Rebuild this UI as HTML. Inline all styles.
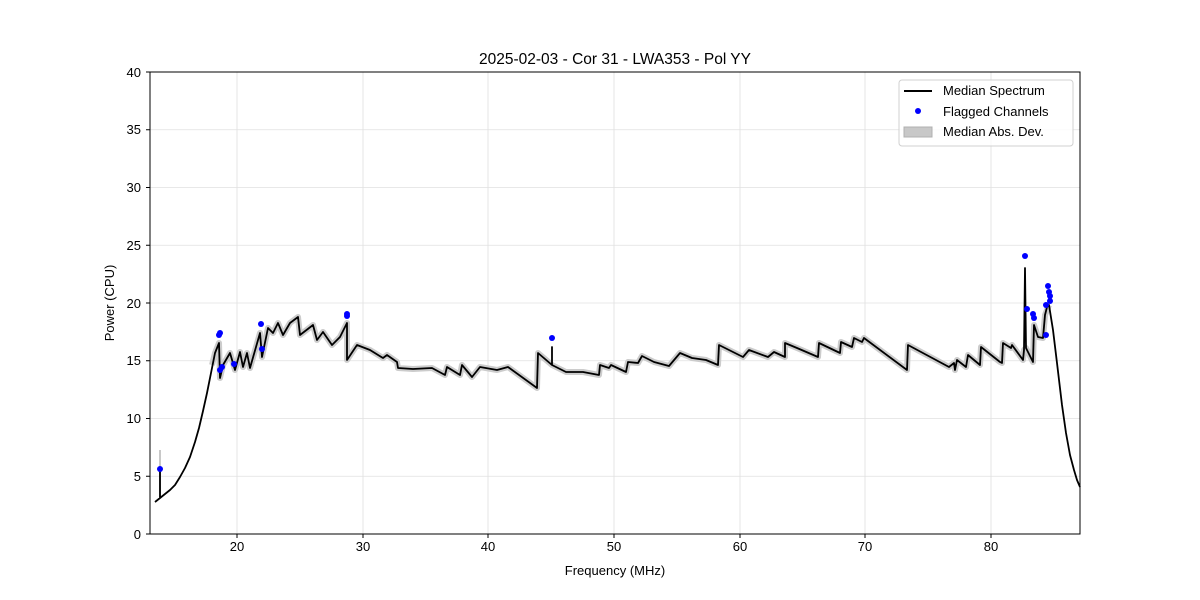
<!DOCTYPE html>
<html><head><meta charset="utf-8"><style>body{margin:0;background:#fff}svg{display:block;font-family:"Liberation Sans","DejaVu Sans",sans-serif}</style></head>
<body>
<svg width="1200" height="600" viewBox="0 0 1200 600" xmlns="http://www.w3.org/2000/svg">
<rect width="1200" height="600" fill="#fff"/>
<g stroke="#e0e0e0" stroke-width="0.8">
<line x1="237" y1="72" x2="237" y2="534"/><line x1="363" y1="72" x2="363" y2="534"/><line x1="488" y1="72" x2="488" y2="534"/><line x1="614" y1="72" x2="614" y2="534"/><line x1="740" y1="72" x2="740" y2="534"/><line x1="865" y1="72" x2="865" y2="534"/><line x1="991" y1="72" x2="991" y2="534"/>
<line x1="150" y1="476.25" x2="1080" y2="476.25"/><line x1="150" y1="418.5" x2="1080" y2="418.5"/><line x1="150" y1="360.75" x2="1080" y2="360.75"/><line x1="150" y1="303" x2="1080" y2="303"/><line x1="150" y1="245.25" x2="1080" y2="245.25"/><line x1="150" y1="187.5" x2="1080" y2="187.5"/><line x1="150" y1="129.75" x2="1080" y2="129.75"/>
</g>
<g fill="none" stroke-linejoin="round">
<path stroke="#cccccc" stroke-width="6" d="M212,365 L215,353 L219,343 L220,378 L223,365 L230,353 L235,370 L240,352 L243,367 L247,353 L250,368 L260,333 L262,357 L268,328 L273,333 L278,323 L283,335 L290,323 L298,317 L300,335 L313,325 L317,340 L323,332 L332,345 L340,337 L347,323 L347,360 L357,345 L370,350 L383,358 L387,355 L397,362 L398,368 L413,369 L432,368 L445,375 L447,367 L460,375 L462,365 L472,377 L480,367 L497,370 L508,367 L537,388 L538,353 L552,365 L566,372 L583,372 L599,375 L600,365 L609,368 L611,365 L626,372 L628,362 L638,363 L642,356 L654,362 L669,366 L680,353 L692,358 L706,360 L718,365 L719,345 L743,357 L749,350 L768,357 L774,352 L785,357 L785,343 L797,348 L818,357 L819,343 L840,353 L841,342 L852,347 L854,338 L862,342 L864,338 L907,370 L908,345 L949,367 L954,363 L955,370 L957,360 L966,367 L968,355 L980,365 L981,347 L1000,362 L1002,363 L1003,343 L1011,348 L1012,345 L1023,360 L1024,350 L1026,348 L1033,362 L1034,325 L1038,337 L1043,338 L1045,315 L1049,305"/>
<line x1="160" y1="450" x2="160" y2="498" stroke="#c8c8c8" stroke-width="2"/>
<path stroke="#000" stroke-width="1.8" d="M155,502 L160,498 L160,470 L160,498 L165,494 L170,490 L175,485 L180,477 L185,468 L190,457 L195,442 L199,428 L203,411 L207,393 L211,373 L215,353 L219,343 L220,378 L223,365 L230,353 L235,370 L240,352 L243,367 L247,353 L250,368 L260,333 L262,357 L268,328 L273,333 L278,323 L283,335 L290,323 L298,317 L300,335 L313,325 L317,340 L323,332 L332,345 L340,337 L347,323 L347,360 L357,345 L370,350 L383,358 L387,355 L397,362 L398,368 L413,369 L432,368 L445,375 L447,367 L460,375 L462,365 L472,377 L480,367 L497,370 L508,367 L537,388 L538,353 L552,365 L552,347 L552,365 L566,372 L583,372 L599,375 L600,365 L609,368 L611,365 L626,372 L628,362 L638,363 L642,356 L654,362 L669,366 L680,353 L692,358 L706,360 L718,365 L719,345 L743,357 L749,350 L768,357 L774,352 L785,357 L785,343 L797,348 L818,357 L819,343 L840,353 L841,342 L852,347 L854,338 L862,342 L864,338 L907,370 L908,345 L949,367 L954,363 L955,370 L957,360 L966,367 L968,355 L980,365 L981,347 L1000,362 L1002,363 L1003,343 L1011,348 L1012,345 L1023,360 L1024,350 L1025,268 L1026,348 L1033,362 L1034,325 L1038,337 L1043,338 L1045,315 L1047,307 L1049,305 L1053,330 L1057,363 L1062,405 L1066,433 L1070,455 L1074,470 L1077,480 L1080,487"/>
</g>
<g fill="#0000ff">
<circle cx="160" cy="469" r="3"/><circle cx="219" cy="335" r="3"/><circle cx="220" cy="333" r="3"/><circle cx="220" cy="370" r="3"/><circle cx="222" cy="367" r="3"/><circle cx="234" cy="364" r="3"/><circle cx="261" cy="324" r="3"/><circle cx="262" cy="349" r="3"/><circle cx="347" cy="314" r="3"/><circle cx="347" cy="316" r="3"/><circle cx="552" cy="338" r="3"/><circle cx="1025" cy="256" r="3"/><circle cx="1027" cy="309" r="3"/><circle cx="1033" cy="314" r="3"/><circle cx="1034" cy="318" r="3"/><circle cx="1046" cy="335" r="3"/><circle cx="1046" cy="305" r="3"/><circle cx="1048" cy="286" r="3"/><circle cx="1049" cy="292" r="3"/><circle cx="1050" cy="296" r="3"/><circle cx="1050" cy="301" r="3"/>
</g>
<rect x="150" y="72" width="930" height="462" fill="none" stroke="#000" stroke-width="1"/>
<g stroke="#000" stroke-width="1">
<line x1="237" y1="534" x2="237" y2="538"/><line x1="363" y1="534" x2="363" y2="538"/><line x1="488" y1="534" x2="488" y2="538"/><line x1="614" y1="534" x2="614" y2="538"/><line x1="740" y1="534" x2="740" y2="538"/><line x1="865" y1="534" x2="865" y2="538"/><line x1="991" y1="534" x2="991" y2="538"/>
<line x1="146" y1="534" x2="150" y2="534"/><line x1="146" y1="476.25" x2="150" y2="476.25"/><line x1="146" y1="418.5" x2="150" y2="418.5"/><line x1="146" y1="360.75" x2="150" y2="360.75"/><line x1="146" y1="303" x2="150" y2="303"/><line x1="146" y1="245.25" x2="150" y2="245.25"/><line x1="146" y1="187.5" x2="150" y2="187.5"/><line x1="146" y1="129.75" x2="150" y2="129.75"/><line x1="146" y1="72" x2="150" y2="72"/>
</g>
<g font-size="13" fill="#000" text-anchor="middle">
<text x="237" y="551">20</text><text x="363" y="551">30</text><text x="488" y="551">40</text><text x="614" y="551">50</text><text x="740" y="551">60</text><text x="865" y="551">70</text><text x="991" y="551">80</text>
</g>
<g font-size="13" fill="#000" text-anchor="end">
<text x="141" y="539">0</text><text x="141" y="481">5</text><text x="141" y="423">10</text><text x="141" y="365">15</text><text x="141" y="308">20</text><text x="141" y="250">25</text><text x="141" y="192">30</text><text x="141" y="134">35</text><text x="141" y="77">40</text>
</g>
<text x="615" y="575" font-size="13" text-anchor="middle">Frequency (MHz)</text>
<text transform="translate(114,303) rotate(-90)" font-size="13" text-anchor="middle">Power (CPU)</text>
<text x="615" y="64" font-size="15.5" text-anchor="middle">2025-02-03 - Cor 31 - LWA353 - Pol YY</text>
<rect x="899" y="80" width="174" height="66" rx="3" fill="#fff" fill-opacity="0.8" stroke="#d0d0d0"/>
<line x1="904" y1="91" x2="932" y2="91" stroke="#000" stroke-width="2"/>
<circle cx="918" cy="111" r="3" fill="#0000ff"/>
<rect x="904" y="127" width="28" height="10" fill="#c8c8c8" stroke="#b0b0b0"/>
<g font-size="13" fill="#000"><text x="943" y="95">Median Spectrum</text><text x="943" y="116">Flagged Channels</text><text x="943" y="136">Median Abs. Dev.</text></g>
</svg>
</body></html>
